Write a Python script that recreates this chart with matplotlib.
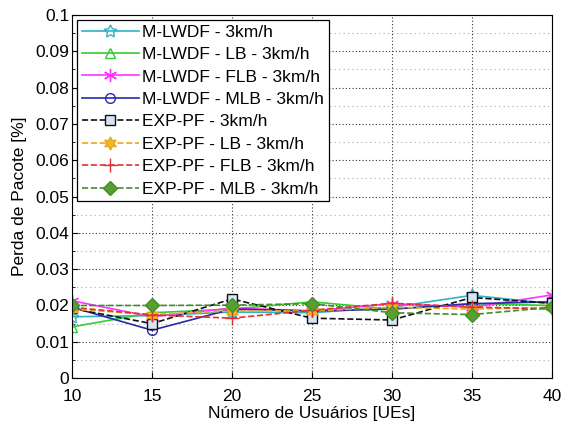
import matplotlib
matplotlib.use("Agg")
import matplotlib.pyplot as plt

plt.rcParams["font.family"] = ["Liberation Sans", "DejaVu Sans"]

usuarios = [10, 15, 20, 25, 30, 35, 40]

mlwdf = [0.0169, 0.0172, 0.0182, 0.0180, 0.0195, 0.0228, 0.0205]
mlwdf_lb = [0.0141, 0.0180, 0.0190, 0.0210, 0.0190, 0.0205, 0.0200]
mlwdf_flb = [0.0213, 0.0169, 0.0193, 0.0185, 0.0205, 0.0195, 0.0229]
mlwdf_mlb = [0.0195, 0.0132, 0.0190, 0.0185, 0.0190, 0.0205, 0.0210]
exppf = [0.0192, 0.0150, 0.0218, 0.0165, 0.0160, 0.0222, 0.0206]
exppf_lb = [0.0190, 0.0175, 0.0185, 0.0185, 0.0195, 0.0190, 0.0195]
exppf_flb = [0.0195, 0.0174, 0.0165, 0.0187, 0.0206, 0.0196, 0.0190]
exppf_mlb = [0.0200, 0.0200, 0.0201, 0.0205, 0.0180, 0.0175, 0.0195]

labels = [
    "M-LWDF - 3km/h",
    "M-LWDF - LB - 3km/h",
    "M-LWDF - FLB - 3km/h",
    "M-LWDF - MLB - 3km/h",
    "EXP-PF - 3km/h",
    "EXP-PF - LB - 3km/h",
    "EXP-PF - FLB - 3km/h",
    "EXP-PF - MLB - 3km/h",
]
series = [mlwdf, mlwdf_lb, mlwdf_flb, mlwdf_mlb, exppf, exppf_lb, exppf_flb, exppf_mlb]

# color, marker, face, linestyle
styles = [
    ("#2fb3c3", (5, 1, 0), "none", "-"),
    ("#33cc33", "^", "none", "-"),
    ("#ff33ff", (6, 2, 0), "#ff33ff", "-"),
    ("#2a2aa8", "o", "none", "-"),
    ("#111111", "s", "#d6e4f4", "--"),
    ("#e8a820", (6, 1, 0), "#f0b828", "--"),
    ("#e03030", "+", "#e03030", "--"),
    ("#3f8f2a", "D", "#5a9e30", "--"),
]

fig = plt.figure(figsize=(5.69, 4.22), dpi=100)
ax = fig.add_axes([0.1265, 0.104, 0.8435, 0.8605])

for vals, lab, (c, m, fc, ls) in zip(series, labels, styles):
    ms = 7 if m in ("D", "s", "o", "^") else 9.5
    ax.plot(usuarios, vals, color=c, linestyle=ls, linewidth=1.2, marker=m,
            markersize=ms, markerfacecolor=fc, markeredgecolor=c,
            markeredgewidth=1.0, label=lab)

ax.set_xlim(10, 40)
ax.set_ylim(0, 0.1)
ax.set_xticks(usuarios)
ax.set_yticks([i / 100 for i in range(11)])
ax.set_yticklabels(["0"] + [f"{i / 100:g}" for i in range(1, 11)])
ax.set_yticks([0.005 + i / 100 for i in range(10)], minor=True)
ax.tick_params(which="both", direction="in", labelsize=12.5)
ax.tick_params(which="major", length=4)
ax.tick_params(which="minor", length=2)
ax.tick_params(axis="x", pad=8)
ax.tick_params(axis="y", pad=2)
ax.grid(True, which="major", linestyle=(0, (1, 2)), color="#333333", linewidth=0.8)
ax.grid(True, which="minor", axis="y", linestyle=(0, (1, 3)), color="#aaaaaa", linewidth=0.8)

ax.set_xlabel("Número de Usuários [UEs]", fontsize=12.5, labelpad=1)
ax.set_ylabel("Perda de Pacote [%]", fontsize=12.5, labelpad=6)

leg = ax.legend(loc="upper left", fontsize=12.5, labelspacing=0.42, handlelength=3.3,
                handletextpad=0.2, borderaxespad=0.3, borderpad=0.25, fancybox=False,
                framealpha=1)
leg.get_frame().set_edgecolor("black")
leg.get_frame().set_linewidth(0.9)

fig.savefig("out.png", dpi=100)
